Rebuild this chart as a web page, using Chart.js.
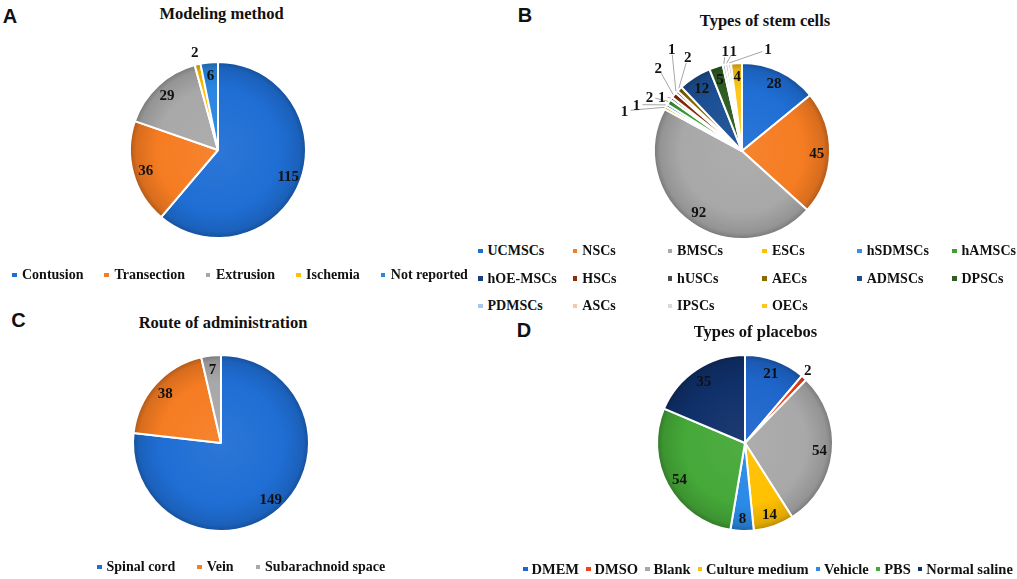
<!DOCTYPE html>
<html>
<head>
<meta charset="utf-8">
<script src="https://cdn.jsdelivr.net/npm/chart.js@4.4.1/dist/chart.umd.min.js"></script>
<style>
  html, body { margin:0; padding:0; background:#fff; }
  #fig { position:relative; width:1017px; height:579px; overflow:hidden; background:#fff; }
  canvas { position:absolute; }
  .txt { position:absolute; white-space:nowrap; line-height:1; color:#111; transform:translate(-50%,-50%); }
  .letter { font-family:"Liberation Sans", Arial, sans-serif; font-weight:bold; font-size:20px; }
  .title { font-family:"Liberation Serif", "Times New Roman", serif; font-weight:bold; font-size:16.5px; }
  .leg { position:absolute; display:flex; align-items:center; white-space:nowrap; height:16px;
         font-family:"Liberation Serif", "Times New Roman", serif; font-weight:bold; font-size:14px; color:#111; line-height:16px; }
  .leg .it { display:flex; align-items:center; }
  .leg .mk { display:inline-block; width:4.5px; height:4.5px; }
</style>
</head>
<body>
<div id="fig"></div>
<script>
// ---------------- data ----------------
const modelingLabels = ['Contusion', 'Transection', 'Extrusion', 'Ischemia', 'Not reported'];
const modelingValues = [115, 36, 29, 2, 6];

const stemLabels = ['UCMSCs', 'NSCs', 'BMSCs', 'ESCs', 'hSDMSCs', 'hAMSCs', 'hOE-MSCs', 'HSCs',
                    'hUSCs', 'AECs', 'ADMSCs', 'DPSCs', 'PDMSCs', 'ASCs', 'IPSCs', 'OECs'];
const stemValues = [28, 45, 92, 1, 1, 2, 1, 2, 1, 2, 12, 5, 1, 1, 1, 4];

const routeLabels = ['Spinal cord', 'Vein', 'Subarachnoid space'];
const routeValues = [149, 38, 7];

const placeboLabels = ['DMEM', 'DMSO', 'Blank', 'Culture medium', 'Vehicle', 'PBS', 'Normal saline'];
const placeboValues = [21, 2, 54, 14, 8, 54, 35];

// ---------------- styles ----------------
const modelingColors = ['#1f6ed4', '#f57c22', '#a8a8a8', '#ffc000', '#2a86e0'];
const stemColors = ['#1f6ed4', '#f57c22', '#a8a8a8', '#ffc000', '#3d8ee6', '#3f9f35', '#183f7e', '#8b2c0a',
                    '#4d4d4d', '#8a6b00', '#1c4f94', '#2f5d24', '#a9c6ee', '#f8c7a6', '#d9d9d9', '#ffc61a'];
const routeColors = ['#1f6ed4', '#f57c22', '#a8a8a8'];
const placeboColors = ['#1f66cc', '#f2401a', '#a8a8a8', '#ffc000', '#2a8ae6', '#45a838', '#10306a'];

const fig = document.getElementById('fig');

function hexToRgb(h) { const n = parseInt(h.slice(1), 16); return [(n >> 16) & 255, (n >> 8) & 255, n & 255]; }
function mix(h, t, f) { const c = hexToRgb(h); return 'rgb(' + c.map(v => Math.round(v + (t - v) * f)).join(',') + ')'; }

function gradientFill(colors) {
  return (ctx) => {
    const base = colors[ctx.dataIndex % colors.length];
    const chart = ctx.chart; const ca = chart.chartArea;
    if (!ca || ctx.type !== 'data') return base;
    const cx = (ca.left + ca.right) / 2, cy = (ca.top + ca.bottom) / 2;
    const R = chart.options.radius;
    const g = chart.ctx.createRadialGradient(cx, cy, 0, cx, cy, R);
    g.addColorStop(0, mix(base, 255, 0.06));
    g.addColorStop(0.7, base);
    g.addColorStop(0.93, mix(base, 0, 0.12));
    g.addColorStop(1, mix(base, 0, 0.28));
    return g;
  };
}

const sliceLabels = {
  id: 'sliceLabels',
  afterDatasetsDraw(chart, args, opts) {
    const ctx = chart.ctx;
    const meta = chart.getDatasetMeta(0);
    const values = chart.data.datasets[0].data;
    const callouts = opts.callouts || {};
    ctx.save();
    meta.data.forEach((arc, i) => {
      const p = arc.getProps(['x', 'y', 'startAngle', 'endAngle', 'outerRadius'], true);
      const mid = (p.startAngle + p.endAngle) / 2;
      const c = callouts[i];
      const f = c ? c.r : (opts.inside || 0.85);
      const a = mid + (c ? c.da : 0) * Math.PI / 180;
      const lx = p.x + Math.cos(a) * p.outerRadius * f;
      const ly = p.y + Math.sin(a) * p.outerRadius * f;
      if (c && c.line) {
        const rx = p.x + Math.cos(mid) * (p.outerRadius + 1);
        const ry = p.y + Math.sin(mid) * (p.outerRadius + 1);
        const dx = rx - lx, dy = ry - ly, d = Math.hypot(dx, dy);
        ctx.strokeStyle = '#a6a6a6'; ctx.lineWidth = 1;
        ctx.beginPath();
        ctx.moveTo(lx + dx / d * 6, ly + dy / d * 6);
        ctx.lineTo(rx, ry);
        ctx.stroke();
      }
      ctx.font = opts.font; ctx.fillStyle = opts.color;
      ctx.textAlign = 'center'; ctx.textBaseline = 'middle';
      ctx.fillText(String(values[i]), lx, ly + 1);
    });
    ctx.restore();
  }
};

function makePie(cx, cy, labels, values, colors, callouts) {
  const size = 300;
  const cv = document.createElement('canvas');
  cv.width = size; cv.height = size;
  cv.style.left = (cx - size / 2) + 'px'; cv.style.top = (cy - size / 2) + 'px';
  cv.style.width = size + 'px'; cv.style.height = size + 'px';
  fig.appendChild(cv);
  return new Chart(cv, {
    type: 'pie',
    data: { labels: labels, datasets: [{ data: values, backgroundColor: gradientFill(colors), borderColor: '#ffffff', borderWidth: 2 }] },
    options: {
      responsive: false, animation: false, events: [], radius: 88,
      layout: { padding: 0 },
      plugins: {
        legend: { display: false }, title: { display: false }, tooltip: { enabled: false },
        sliceLabels: { font: 'bold 15px "Liberation Serif", "Times New Roman", serif', color: '#111', inside: 0.85, callouts: callouts || {} }
      }
    },
    plugins: [sliceLabels]
  });
}

function addText(cls, text, cx, cy) {
  const d = document.createElement('div');
  d.className = 'txt ' + cls; d.textContent = text;
  d.style.left = cx + 'px'; d.style.top = cy + 'px';
  fig.appendChild(d);
}

function legendRow(labels, colors, left, cy, gap, mkGap, fontSize) {
  const row = document.createElement('div');
  row.className = 'leg'; row.style.left = left + 'px'; row.style.top = (cy - 8) + 'px';
  if (fontSize) row.style.fontSize = fontSize + 'px';
  labels.forEach((t, i) => {
    const it = document.createElement('span'); it.className = 'it';
    if (i < labels.length - 1) it.style.marginRight = gap + 'px';
    const mk = document.createElement('span'); mk.className = 'mk'; mk.style.background = colors[i]; mk.style.marginRight = mkGap + 'px';
    const tx = document.createElement('span'); tx.textContent = t;
    it.appendChild(mk); it.appendChild(tx); row.appendChild(it);
  });
  fig.appendChild(row);
}

function legendGrid(labels, colors, left, top, colW, rowH, cols, mkGap) {
  labels.forEach((t, i) => {
    const row = document.createElement('div');
    row.className = 'leg';
    row.style.left = (left + (i % cols) * colW) + 'px';
    row.style.top = (top + Math.floor(i / cols) * rowH - 8) + 'px';
    const mk = document.createElement('span'); mk.className = 'mk'; mk.style.background = colors[i]; mk.style.marginRight = mkGap + 'px';
    const tx = document.createElement('span'); tx.textContent = t;
    row.appendChild(mk); row.appendChild(tx);
    fig.appendChild(row);
  });
}

// ---------------- panel A ----------------
addText('letter', 'A', 10, 16);
addText('title', 'Modeling method', 221.5, 14);
makePie(218, 150, modelingLabels, modelingValues, modelingColors, { 3: { r: 1.14, da: 0 } });
legendRow(modelingLabels, modelingColors, 12, 275, 21, 5.5);

// ---------------- panel B ----------------
addText('letter', 'B', 525, 15);
addText('title', 'Types of stem cells', 765, 21);
makePie(742, 151, stemLabels, stemValues, stemColors, {
  3: { r: 1.41, da: -10.5, line: true },
  4: { r: 1.31, da: -7.5, line: true },
  5: { r: 1.22, da: -3.5, line: true },
  6: { r: 1.10, da: -2.6, line: true },
  7: { r: 1.34, da: 5.4, line: true },
  8: { r: 1.41, da: 13.4, line: true },
  9: { r: 1.23, da: 15.2, line: true },
  12: { r: 1.15, da: 2.2, line: true },
  13: { r: 1.14, da: 5, line: true },
  14: { r: 1.19, da: 22.5, line: true }
});
legendGrid(stemLabels, stemColors, 478, 251, 94.8, 27.5, 6, 5);

// ---------------- panel C ----------------
addText('letter', 'C', 18.5, 320);
addText('title', 'Route of administration', 223, 322.5);
makePie(221, 443, routeLabels, routeValues, routeColors, {});
legendRow(routeLabels, routeColors, 97, 567, 22, 5);

// ---------------- panel D ----------------
addText('letter', 'D', 524, 330);
addText('title', 'Types of placebos', 755.5, 332);
makePie(745, 443, placeboLabels, placeboValues, placeboColors, { 1: { r: 1.09, da: -1.3 } });
legendRow(placeboLabels, placeboColors, 523, 569, 7, 4, 14.5);
</script>
</body>
</html>
